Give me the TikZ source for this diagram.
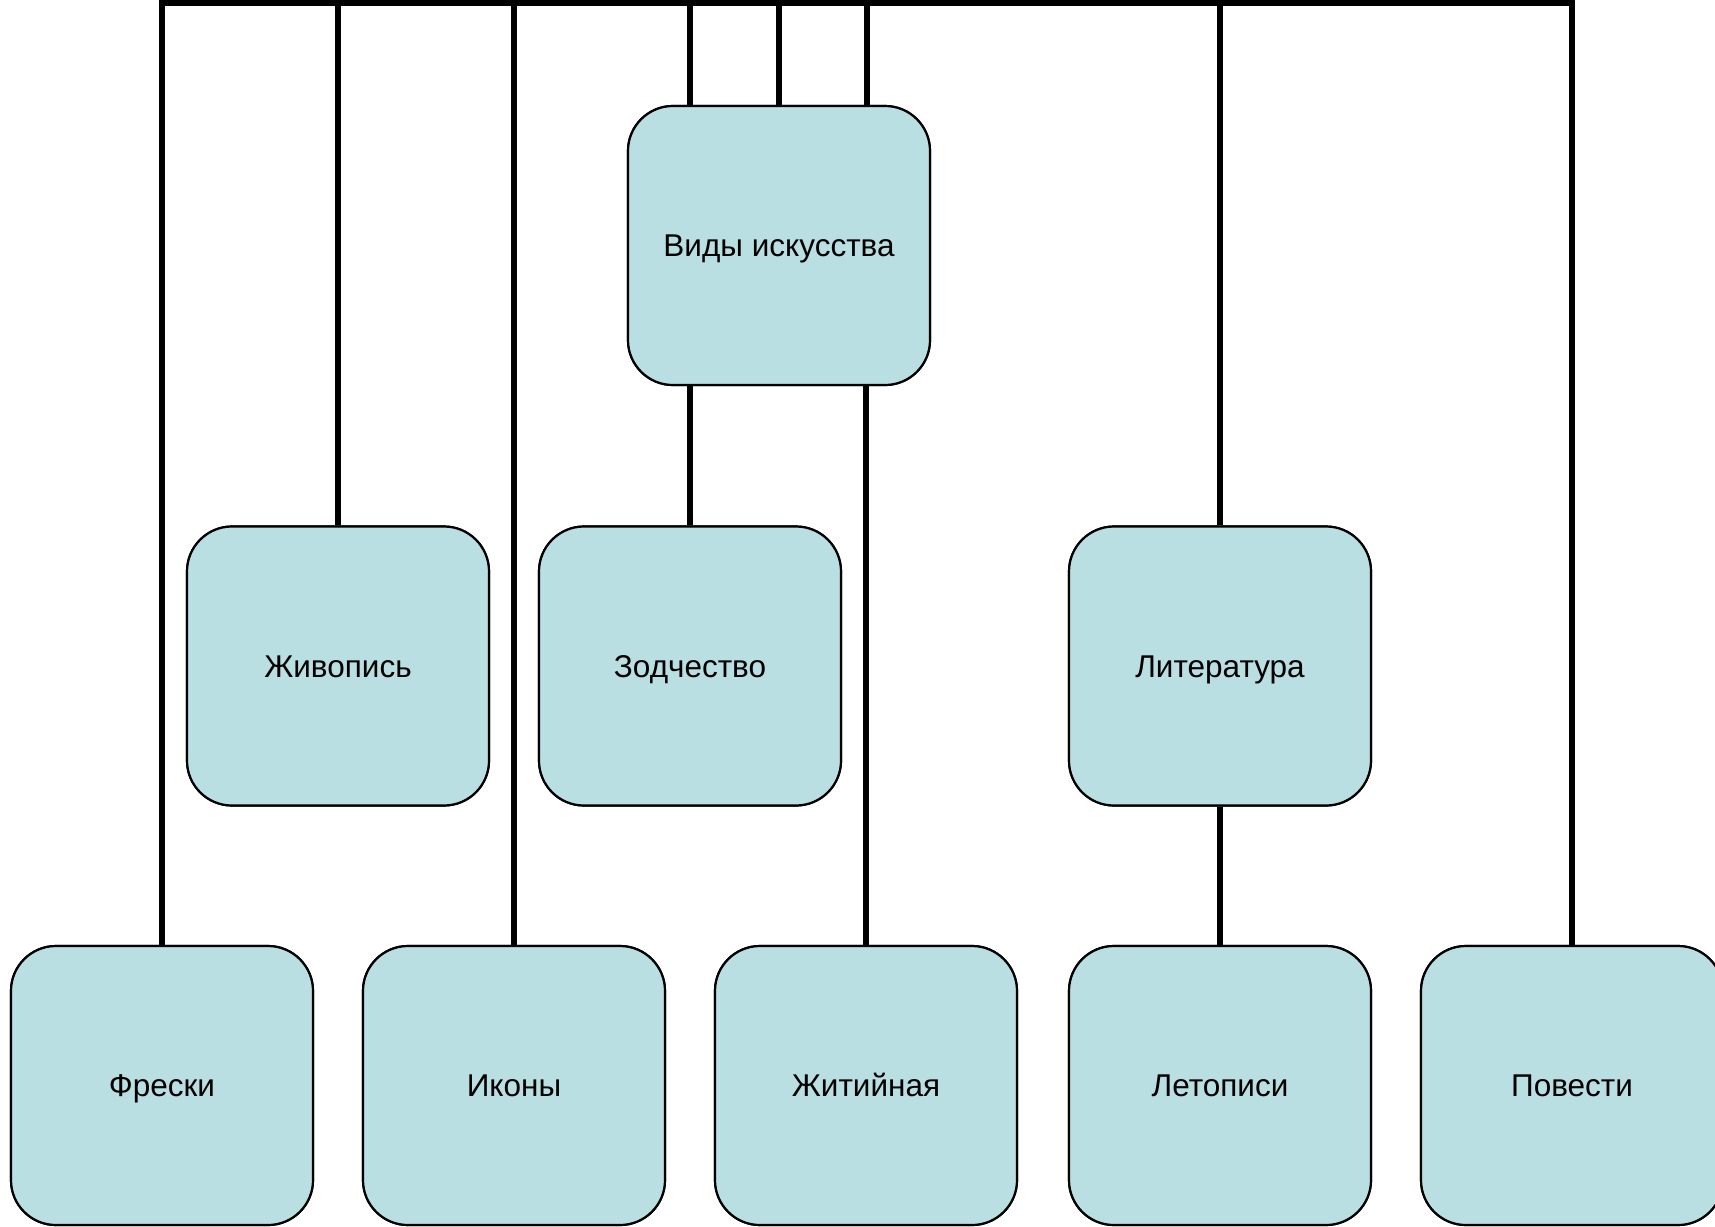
\documentclass[tikz,border=0pt]{standalone}
\usepackage{fontspec}
\setmainfont{Liberation Sans}
\definecolor{boxfill}{HTML}{B9DFE3}
\begin{document}
\begin{tikzpicture}[x=1pt,y=-1pt,
  box/.style={draw=black,line width=2.2pt,fill=boxfill,rounded corners=45pt,
    minimum width=302pt,minimum height=279pt,inner sep=0pt,
    text height=22.5pt,text depth=0pt,
    font=\fontsize{31.5}{38}\selectfont},
  conn/.style={line width=6pt,draw=black}]
\useasboundingbox (0,0) rectangle (1715,1226);
\coordinate (tl) at (162,2.5);
\coordinate (tr) at (1572,2.5);
\node[box] (vid) at (779,245.5) {Виды искусства};
\node[box] (zhiv) at (338,666) {Живопись};
\node[box] (zod) at (690,666) {Зодчество};
\node[box] (lit) at (1220,666) {Литература};
\node[box] (fr) at (162,1085.5) {Фрески};
\node[box] (ik) at (514,1085.5) {Иконы};
\node[box] (zh) at (866,1085.5) {Житийная};
\node[box] (let) at (1220,1085.5) {Летописи};
\node[box] (pov) at (1572,1085.5) {Повести};
\path[conn] (fr.north) -- (tl) -- (tr) -- (pov.north);
\path[conn] (zhiv.north) -- (zhiv.north |- tl);
\path[conn] (ik.north) -- (ik.north |- tl);
\path[conn] ([xshift=-89pt]vid.north) -- ([xshift=-89pt]vid.north |- tl);
\path[conn] (vid.north) -- (vid.north |- tl);
\path[conn] ([xshift=88pt]vid.north) -- ([xshift=88pt]vid.north |- tl);
\path[conn] (lit.north) -- (lit.north |- tl);
\path[conn] (zod.north) -- (zod.north |- vid.south);
\path[conn] (zh.north) -- (zh.north |- vid.south);
\path[conn] (lit.south) -- (let.north);
% redraw boxes on top of the connectors
\node[box] at (vid) {Виды искусства};
\node[box] at (zhiv) {Живопись};
\node[box] at (zod) {Зодчество};
\node[box] at (lit) {Литература};
\node[box] at (fr) {Фрески};
\node[box] at (ik) {Иконы};
\node[box] at (zh) {Житийная};
\node[box] at (let) {Летописи};
\node[box] at (pov) {Повести};
\end{tikzpicture}
\end{document}
